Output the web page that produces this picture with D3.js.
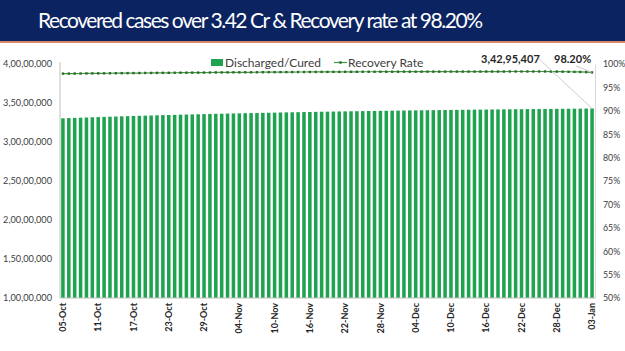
<!DOCTYPE html>
<html lang="en">
<head>
<meta charset="UTF-8">
<title>Recovered cases and recovery rate</title>
<script src="https://d3js.org/d3.v7.min.js"></script>
<style>
    body { margin: 0; background: #fff; }
    svg { display: block; font-family: Lato, "Open Sans", sans-serif; }
    .ylab { font-size: 9.2px; fill: #404040; }
    .rlab { font-size: 8.8px; fill: #404040; }
    .xlab { font-size: 9px; font-weight: bold; fill: #262626; }
</style>
</head>
<body>
<svg width="625" height="351"></svg>
<script>
    // Title and data
    const titleText = "Recovered cases over 3.42 Cr & Recovery rate at 98.20%";

    const dates = [
        "05-Oct","06-Oct","07-Oct","08-Oct","09-Oct","10-Oct","11-Oct","12-Oct","13-Oct","14-Oct",
        "15-Oct","16-Oct","17-Oct","18-Oct","19-Oct","20-Oct","21-Oct","22-Oct","23-Oct","24-Oct",
        "25-Oct","26-Oct","27-Oct","28-Oct","29-Oct","30-Oct","31-Oct","01-Nov","02-Nov","03-Nov",
        "04-Nov","05-Nov","06-Nov","07-Nov","08-Nov","09-Nov","10-Nov","11-Nov","12-Nov","13-Nov",
        "14-Nov","15-Nov","16-Nov","17-Nov","18-Nov","19-Nov","20-Nov","21-Nov","22-Nov","23-Nov",
        "24-Nov","25-Nov","26-Nov","27-Nov","28-Nov","29-Nov","30-Nov","01-Dec","02-Dec","03-Dec",
        "04-Dec","05-Dec","06-Dec","07-Dec","08-Dec","09-Dec","10-Dec","11-Dec","12-Dec","13-Dec",
        "14-Dec","15-Dec","16-Dec","17-Dec","18-Dec","19-Dec","20-Dec","21-Dec","22-Dec","23-Dec",
        "24-Dec","25-Dec","26-Dec","27-Dec","28-Dec","29-Dec","30-Dec","31-Dec","01-Jan","02-Jan",
        "03-Jan"
    ];

    // Discharged / cured (cumulative)
    const discharged = [
        33036800,33064300,33091300,33117800,33143800,33169400,33194500,33219100,33243200,33266900,
        33290200,33313100,33335600,33357700,33379400,33400700,33421600,33442100,33462200,33481900,
        33501300,33520400,33539100,33557500,33575600,33593300,33610600,33627600,33644300,33660700,
        33676800,33692600,33708100,33723400,33738500,33753300,33767900,33782200,33796400,33810300,
        33824000,33837500,33850800,33863900,33876700,33889400,33902000,33914400,33926500,33938400,
        33949900,33961000,33972000,33983200,33994100,34005000,34015800,34026500,34036900,34047000,
        34057100,34066700,34076400,34085900,34094900,34103700,34112300,34120600,34129000,34137100,
        34145400,34153700,34161700,34169600,34177500,34185300,34192800,34200500,34207900,34215300,
        34222700,34229600,34236400,34243300,34250100,34257100,34264400,34271940,34279850,34287340,
        34295407
    ];

    // Recovery rate (%)
    const recoveryRate = [
        97.94,97.95,97.96,97.97,97.98,97.99,98.00,98.01,98.02,98.03,
        98.04,98.05,98.06,98.07,98.08,98.09,98.10,98.11,98.12,98.13,
        98.14,98.15,98.16,98.16,98.17,98.18,98.19,98.19,98.20,98.21,
        98.22,98.23,98.23,98.24,98.25,98.26,98.26,98.27,98.28,98.28,
        98.29,98.29,98.30,98.30,98.31,98.31,98.32,98.32,98.33,98.33,
        98.33,98.34,98.34,98.34,98.35,98.35,98.35,98.35,98.36,98.36,
        98.36,98.36,98.37,98.37,98.37,98.37,98.38,98.38,98.38,98.38,
        98.38,98.38,98.39,98.39,98.39,98.39,98.40,98.40,98.40,98.40,
        98.40,98.40,98.40,98.39,98.38,98.36,98.34,98.32,98.30,98.27,
        98.20
    ];

    const xTickLabels = ["05-Oct","11-Oct","17-Oct","23-Oct","29-Oct","04-Nov","10-Nov","16-Nov",
        "22-Nov","28-Nov","04-Dec","10-Dec","16-Dec","22-Dec","28-Dec","03-Jan"];
    const leftTicks = [10000000, 15000000, 20000000, 25000000, 30000000, 35000000, 40000000];
    const rightTicks = [50, 55, 60, 65, 70, 75, 80, 85, 90, 95, 100];

    const svg = d3.select("svg");
    const W = +svg.attr("width");

    const barColor = "#20a351";
    const lineColor = "#3f9a3f";
    const markColor = "#2d6b2d";

    // Indian digit grouping: 4,00,00,000
    const inLocale = d3.formatLocale({ decimal: ".", thousands: ",", grouping: [3, 2, 2, 2, 2, 2], currency: ["", ""] });
    const fmtIN = inLocale.format(",d");

    // Title bar
    svg.append("rect").attr("x", 0).attr("y", 0).attr("width", W).attr("height", 42).attr("fill", "#0b2461");
    svg.append("rect").attr("x", 0).attr("y", 41).attr("width", W).attr("height", 2).attr("fill", "#d9866a");
    svg.append("text")
        .attr("x", 38).attr("y", 28)
        .attr("fill", "#fff")
        .attr("font-size", 21)
        .attr("textLength", 445)
        .attr("lengthAdjust", "spacing")
        .text(titleText);

    // Scales
    const plotTop = 64, plotBottom = 298, plotLeft = 60, plotRight = 595;
    const x = d3.scaleBand().domain(dates).range([plotLeft, plotRight]).paddingInner(0.4).paddingOuter(0.2);
    const y = d3.scaleLinear().domain([10000000, 40000000]).range([plotBottom, plotTop]);
    const y2 = d3.scaleLinear().domain([50, 100]).range([plotBottom, plotTop]);

    // Bars
    svg.append("g").selectAll("rect")
        .data(dates)
        .join("rect")
        .attr("x", d => x(d))
        .attr("width", x.bandwidth())
        .attr("y", (d, i) => y(discharged[i]))
        .attr("height", (d, i) => y(y.domain()[0]) - y(discharged[i]))
        .attr("fill", barColor);

    // Left axis
    const leftAxis = svg.append("g")
        .attr("transform", `translate(${plotLeft},0)`)
        .call(d3.axisLeft(y).tickValues(leftTicks).tickFormat(fmtIN).tickSize(0).tickPadding(8));
    leftAxis.attr("font-family", null).attr("font-size", null);
    leftAxis.select(".domain").attr("stroke", "#bfbfbf").attr("d", `M0,${plotTop - 2}V${plotBottom}`);
    leftAxis.selectAll("text").attr("class", "ylab");

    // Right axis
    const rightAxis = svg.append("g")
        .attr("transform", `translate(${plotRight},0)`)
        .call(d3.axisRight(y2).tickValues(rightTicks).tickFormat(d => d + "%").tickSize(0).tickPadding(8));
    rightAxis.attr("font-family", null).attr("font-size", null);
    rightAxis.select(".domain").attr("stroke", "#d9d9d9");
    rightAxis.selectAll("text").attr("class", "rlab");

    // Bottom axis
    const bottomAxis = svg.append("g")
        .attr("transform", `translate(0,${plotBottom})`)
        .call(d3.axisBottom(x).tickValues(xTickLabels).tickSize(0).tickPadding(0));
    bottomAxis.attr("font-family", null).attr("font-size", null);
    bottomAxis.select(".domain").attr("stroke", "#bfbfbf").attr("d", `M${plotLeft},0H${plotRight}`);
    bottomAxis.selectAll("text")
        .attr("class", "xlab")
        .attr("transform", "rotate(-90)")
        .attr("text-anchor", "end")
        .attr("x", -5).attr("y", 0).attr("dy", "0.35em");

    // Recovery rate line
    const line = d3.line()
        .x((d, i) => x(dates[i]) + x.bandwidth() / 2)
        .y(d => y2(d));
    svg.append("path")
        .datum(recoveryRate)
        .attr("fill", "none")
        .attr("stroke", lineColor)
        .attr("stroke-width", 1.2)
        .attr("d", line);
    svg.append("g").selectAll("rect")
        .data(recoveryRate)
        .join("rect")
        .attr("x", (d, i) => x(dates[i]) + x.bandwidth() / 2 - 1.2)
        .attr("y", d => y2(d) - 1.2)
        .attr("width", 2.4).attr("height", 2.4)
        .attr("fill", markColor);

    // Data labels with leader lines
    const last = dates.length - 1;
    const lastX = x(dates[last]) + x.bandwidth() / 2;
    svg.append("line")
        .attr("x1", 538).attr("y1", 58)
        .attr("x2", lastX).attr("y2", y(discharged[last]))
        .attr("stroke", "#bfbfbf").attr("stroke-width", 0.8);
    svg.append("text")
        .attr("x", 481).attr("y", 63)
        .attr("font-size", 11).attr("font-weight", "bold").attr("fill", "#262626")
        .text(fmtIN(discharged[last]));
    svg.append("line")
        .attr("x1", 576).attr("y1", 66)
        .attr("x2", lastX).attr("y2", y2(recoveryRate[last]))
        .attr("stroke", "#bfbfbf").attr("stroke-width", 0.8);
    svg.append("text")
        .attr("x", 554).attr("y", 63)
        .attr("font-size", 11).attr("font-weight", "bold").attr("fill", "#262626")
        .text(recoveryRate[last].toFixed(2) + "%");

    // Legend
    const legend = svg.append("g").attr("font-size", 12).attr("fill", "#404040");
    legend.append("rect").attr("x", 211).attr("y", 59).attr("width", 12).attr("height", 7).attr("fill", barColor);
    legend.append("text").attr("x", 225).attr("y", 67).attr("fill", "#404040").text("Discharged/Cured");
    legend.append("line").attr("x1", 334).attr("x2", 347).attr("y1", 62.5).attr("y2", 62.5)
        .attr("stroke", lineColor).attr("stroke-width", 1.2);
    legend.append("rect").attr("x", 339.3).attr("y", 61.3).attr("width", 2.4).attr("height", 2.4).attr("fill", markColor);
    legend.append("text").attr("x", 348).attr("y", 67).attr("fill", "#404040").text("Recovery Rate");
</script>
</body>
</html>
